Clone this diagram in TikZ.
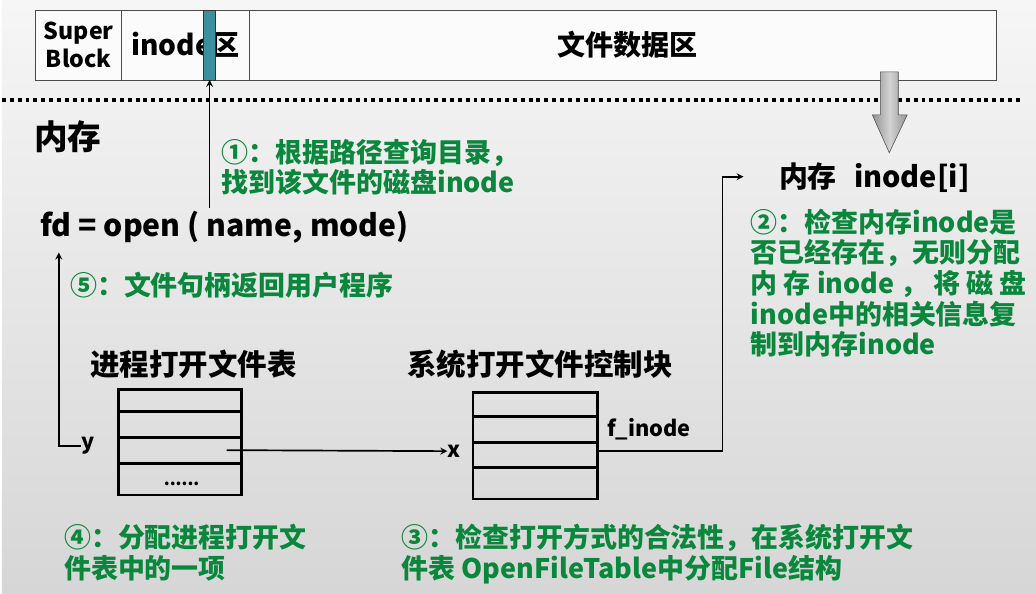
\documentclass[tikz,border=0pt]{standalone}
\usepackage{fontspec}
\newfontfamily\cjk{Noto Sans CJK SC}
\usepackage{tikz}
\usetikzlibrary{arrows}
\usetikzlibrary{calc}
\usetikzlibrary{positioning}
\definecolor{notegreen}{RGB}{10,135,60}
\definecolor{slotteal}{RGB}{58,143,160}
\definecolor{bgtop}{RGB}{246,246,246}
\definecolor{bgbot}{RGB}{214,214,214}

\begin{document}
\begin{tikzpicture}[x=0.025cm,y=-0.025cm,
    lbl/.style={font=\cjk\bfseries\fontsize{21}{25}\selectfont, inner sep=0pt},
    note/.style={font=\cjk\bfseries\fontsize{19.2}{21.8}\selectfont, text=notegreen,
                 align=left, inner sep=0pt, anchor=north west},
    tab/.style={line width=2pt},
    link/.style={line width=1.2pt,->,>=stealth}]
    % background
    \shade[top color=bgtop, bottom color=bgbot] (0,0) rectangle (1036,595);

    % disk layout
    \draw[fill=white!97!gray, draw=black!70] (33,10) rectangle (996,80);
    \draw[black!70] (120,10) -- (120,80);
    \draw[black!70] (248,10) -- (248,80);
    \node[lbl, align=center, font=\cjk\bfseries\fontsize{16.5}{20}\selectfont] (sblock) at (77,45) {Super\\Block};
    \node[lbl, font=\cjk\bfseries\fontsize{20}{24}\selectfont] (inodearea) at (184,45) {inode区};
    \node[lbl, font=\cjk\bfseries\fontsize{20}{24}\selectfont] (dataarea) at (627,45) {文件数据区};
    \draw[fill=slotteal, draw=black!80] (202,10) rectangle (214,80);
    \coordinate (slot) at (208,80);

    % disk / memory border
    \draw[line width=2.8pt, dash pattern=on 2.8pt off 2.8pt] (0,100) -- (1020,100);
    \shade[left color=gray!85, right color=gray!85, middle color=gray!35, draw=black!70]
        (880,72) -- (898,72) -- (898,115) -- (907,115) -- (889,153) -- (872,115) -- (880,115) -- cycle;

    \node[lbl, font=\cjk\bfseries\fontsize{24}{28}\selectfont] (mem) at (66,137) {内存};

    % open call
    \node[lbl, anchor=west, font=\cjk\bfseries\fontsize{21.5}{25}\selectfont] (open) at (38,228) {fd = open ( name, mode)};
    \coordinate (lookup) at (208,208);
    \coordinate (fdret) at (57,253);
    \draw[link] (lookup) -- (slot);
    \node[note] (step1) at (220,139) {①：根据路径查询目录，\\找到该文件的磁盘inode};
    \node[note] (step5) at (68,272) {⑤：文件句柄返回用户程序};

    % process open file table
    \node[lbl] (ptitle) at (192,365) {进程打开文件表};
    \draw[tab] (117,390) rectangle (240,496);
    \foreach \r in {412,438,464}
        \draw[tab] (117,\r) -- (240,\r);
    \node[lbl, font=\cjk\bfseries\fontsize{12}{14}\selectfont] (pdots) at (180,485) {......};
    \coordinate (prow) at (225,451);
    \node[lbl, font=\cjk\bfseries\fontsize{15.5}{18}\selectfont] (yidx) at (86,447) {y};

    % system open file table
    \node[lbl] (stitle) at (539,365) {系统打开文件控制块};
    \draw[tab] (472,393) rectangle (597,500);
    \foreach \r in {417,443,468}
        \draw[tab] (472,\r) -- (597,\r);
    \coordinate (srow) at (597,452);
    \node[lbl, font=\cjk\bfseries\fontsize{15.5}{18}\selectfont] (xidx) at (453,452) {x};
    \node[lbl, anchor=west, font=\cjk\bfseries\fontsize{15.5}{18}\selectfont] (finode) at (606,430) {f\_inode};

    % memory inode
    \node[lbl, font=\cjk\bfseries\fontsize{20.6}{25}\selectfont] (minode) at (874,178) {内存\hspace{0.6em}inode[i]};
    \coordinate (mentry) at (743,177);
    \node[note] (step2) at (750,209) {②：检查内存inode是\\否已经存在，无则分配\\内 存 inode ， 将 磁 盘\\inode中的相关信息复\\制到内存inode};

    % links
    \draw[link] (prow) -- (xidx.west);
    \draw[link] (srow) -| (722,177) -- (mentry);
    \draw[link] (yidx.west) -| (fdret);

    \node[note] (step4) at (62,525) {④：分配进程打开文\\件表中的一项};
    \node[note] (step3) at (400,525) {③：检查打开方式的合法性，在系统打开文\\件表 OpenFileTable中分配File结构};
\end{tikzpicture}
\end{document}
